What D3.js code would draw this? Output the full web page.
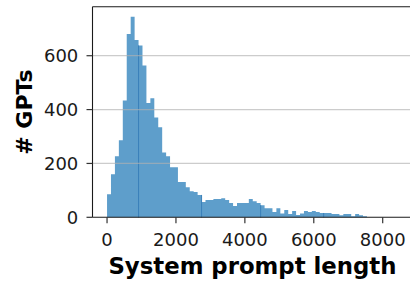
<!DOCTYPE html>
<html lang="en">
<head>
  <meta charset="UTF-8" />
  <title>System prompt length histogram</title>
  <script src="https://d3js.org/d3.v7.min.js"></script>
  <style>
    body {
      margin: 0;
      padding: 0;
      background: white;
      overflow: hidden;
    }
    svg {
      display: block;
      font-family: "DejaVu Sans", sans-serif;
    }
  </style>
</head>
<body>
  <svg id="chart" width="410" height="282"></svg>

  <script>
    // histogram bins (start at 0, fixed width), counts
    const binStart = 0;
    const binWidth = 114.3;
    const counts = [
      86, 160, 227, 286, 434, 681, 745, 658, 638, 564,
      424, 442, 371, 334, 241, 227, 186, 186, 131, 131,
      112, 97, 94, 83, 57, 64, 64, 68, 68, 71,
      64, 53, 42, 53, 53, 53, 68, 60, 53, 45,
      34, 34, 20, 34, 14, 27, 12, 23, 9, 14,
      23, 20, 23, 20, 16, 16, 16, 12, 12, 8,
      12, 12, 4, 12, 8, 4
    ];
    // darker bar edges that show up in the original rendering
    const darkEdges = [
      { bin: 8, side: "left" },
      { bin: 23, side: "right" },
      { bin: 39, side: "left" },
      { bin: 55, side: "left" }
    ];
    const xTicks = [0, 2000, 4000, 6000, 8000];
    const yTicks = [0, 200, 400, 600];
    const gridTicks = [200, 400, 600];

    const svg = d3.select("#chart");
    const mLeft = 92.5, mRight = 412.4, mTop = 6.7, mBottom = 217.3;

    const x = d3.scaleLinear().domain([-422, 8862]).range([mLeft, mRight]);
    const y = d3.scaleLinear().domain([0, 782]).range([mBottom, mTop]);

    const bins = counts.map((c, i) => ({
      x0: binStart + i * binWidth,
      x1: binStart + (i + 1) * binWidth,
      count: c
    }));

    // bars as one stepped shape so neighbours don't leave seams
    const stepPts = bins.map(b => [b.x0, b.count]);
    stepPts.push([bins[bins.length - 1].x1, bins[bins.length - 1].count]);

    const area = d3.area()
      .x(d => x(d[0]))
      .y0(y(0))
      .y1(d => y(d[1]))
      .curve(d3.curveStepAfter);

    svg.append("path")
      .datum(stepPts)
      .attr("d", area)
      .attr("fill", "#5e9ecb");

    svg.selectAll("line.edge")
      .data(darkEdges)
      .enter()
      .append("line")
      .attr("class", "edge")
      .attr("x1", d => x(d.side === "left" ? bins[d.bin].x0 : bins[d.bin].x1))
      .attr("x2", d => x(d.side === "left" ? bins[d.bin].x0 : bins[d.bin].x1))
      .attr("y1", y(0))
      .attr("y2", d => y(bins[d.bin].count))
      .attr("stroke", "#3a7fb9")
      .attr("stroke-width", 1);

    // grid lines sit on top of the bars
    svg.selectAll("line.grid")
      .data(gridTicks)
      .enter()
      .append("line")
      .attr("class", "grid")
      .attr("x1", mLeft).attr("x2", mRight)
      .attr("y1", d => y(d)).attr("y2", d => y(d))
      .attr("stroke", "#b0b0b0")
      .attr("stroke-opacity", 0.65)
      .attr("stroke-width", 1.3);

    // spines
    svg.append("line")
      .attr("x1", mLeft).attr("x2", mLeft)
      .attr("y1", mTop).attr("y2", mBottom)
      .attr("stroke", "#1a1a1a").attr("stroke-width", 1.1);
    svg.append("line")
      .attr("x1", mLeft).attr("x2", mRight)
      .attr("y1", mBottom).attr("y2", mBottom)
      .attr("stroke", "#1a1a1a").attr("stroke-width", 1.1);
    svg.append("line")
      .attr("x1", mLeft).attr("x2", mRight)
      .attr("y1", mTop).attr("y2", mTop)
      .attr("stroke", "#1a1a1a").attr("stroke-width", 1.1);

    const tickFont = 18;

    // x axis
    const xAxis = svg.append("g").selectAll("g")
      .data(xTicks)
      .enter()
      .append("g");
    xAxis.append("line")
      .attr("x1", d => x(d)).attr("x2", d => x(d))
      .attr("y1", mBottom).attr("y2", mBottom + 6)
      .attr("stroke", "#333").attr("stroke-width", 1.2);
    xAxis.append("text")
      .attr("x", d => x(d))
      .attr("y", 245.7)
      .attr("text-anchor", "middle")
      .style("font-size", tickFont + "px")
      .attr("fill", "#1a1a1a")
      .text(d => d);

    // y axis
    const yAxis = svg.append("g").selectAll("g")
      .data(yTicks)
      .enter()
      .append("g");
    yAxis.append("line")
      .attr("x1", mLeft - 6).attr("x2", mLeft)
      .attr("y1", d => y(d)).attr("y2", d => y(d))
      .attr("stroke", "#333").attr("stroke-width", 1.2);
    yAxis.append("text")
      .attr("x", 78.3)
      .attr("y", d => y(d) + tickFont * 0.364)
      .attr("text-anchor", "end")
      .style("font-size", tickFont + "px")
      .attr("fill", "#1a1a1a")
      .text(d => d);

    // axis titles
    svg.append("text")
      .attr("x", (mLeft + mRight) / 2)
      .attr("y", 274)
      .attr("text-anchor", "middle")
      .style("font-size", "22.8px")
      .style("font-weight", "bold")
      .text("System prompt length");

    svg.append("text")
      .attr("transform", `translate(32.3, ${(mTop + mBottom) / 2}) rotate(-90)`)
      .attr("text-anchor", "middle")
      .style("font-size", "22px")
      .style("font-weight", "bold")
      .text("# GPTs");
  </script>
</body>
</html>
